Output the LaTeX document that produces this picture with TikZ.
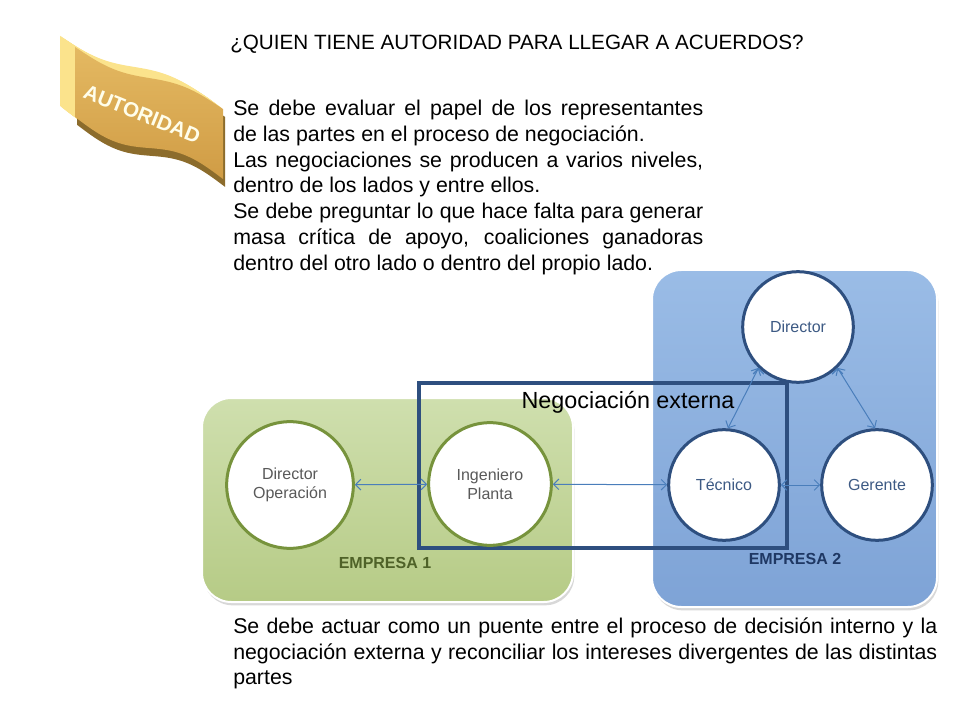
\documentclass[tikz,border=0pt]{standalone}
\usepackage{fontspec}
\setmainfont{Liberation Sans}
\usetikzlibrary{arrows.meta,shadows}

\definecolor{flagface}{HTML}{D09C45}
\definecolor{flagtop}{HTML}{E4B962}
\definecolor{flagside}{HTML}{FBE38C}
\definecolor{flagdark}{HTML}{8C6C2C}
\definecolor{olivetop}{HTML}{CFDFAE}
\definecolor{olivebot}{HTML}{B6CB86}
\definecolor{oliveline}{HTML}{77933C}
\definecolor{olivetext}{HTML}{4F6228}
\definecolor{bluetop}{HTML}{9ABCE6}
\definecolor{bluebot}{HTML}{7EA3D6}
\definecolor{blueline}{HTML}{2E4F7F}
\definecolor{bluetext}{HTML}{1F3864}
\definecolor{linkblue}{HTML}{4A7EBB}
\definecolor{greytext}{HTML}{595959}
\definecolor{steeltext}{HTML}{3D5A84}

\newcommand{\flagshape}{plot[domain=-74:74,samples=45,smooth] (\x,{-35+6*sin(2.43*(\x+74))}) -- plot[domain=74:-74,samples=45,smooth] (\x,{35+8*sin(2.43*(\x+74))}) -- cycle}

\begin{document}
\begin{tikzpicture}[x=0.75pt,y=-0.75pt,
  every node/.style={inner sep=0pt},
  body/.style={align=justify,anchor=north west},
  company/.style={rounded corners=22pt,draw=white,line width=1.5pt,drop shadow={opacity=0.3,shadow xshift=1pt,shadow yshift=-2.5pt}},
  greencirc/.style={circle,draw=oliveline,line width=2.25pt,fill=white,minimum size=92pt,align=center,text=greytext,font=\fontsize{12}{14.5}\selectfont},
  bluecirc/.style={circle,draw=blueline,line width=2.25pt,fill=white,minimum size=83pt,align=center,text=steeltext,font=\fontsize{12}{14.5}\selectfont},
  link/.style={<->,>={Straight Barb[length=4pt,width=8pt]},draw=linkblue,line width=0.75pt},
  complabel/.style={font=\bfseries\fontsize{12}{14}\selectfont}]
\fill[white] (0,0) rectangle (960,720);
\useasboundingbox (0,0) rectangle (960,720);

\begin{scope}[shift={(149,113)},yslant=-0.42]
\foreach \k in {12,...,1}
  \fill[flagside,shift={(-1.25*\k,-0.4*\k)}] \flagshape;
\fill[flagdark,shift={(2,7)}] \flagshape;
\shade[top color=flagtop,bottom color=flagface] \flagshape;
\node[rotate=-22,text=white!92!yellow,font=\bfseries\fontsize{15.5}{16}\selectfont] (flagtxt) at (-7,4) {AUTORIDAD};
\end{scope}

\node[anchor=base west,font=\fontsize{15.5}{18}\selectfont] (title) at (230,49.5) {¿QUIEN TIENE AUTORIDAD PARA LLEGAR A ACUERDOS?};
\node[body,text width=352.5pt,font=\fontsize{16}{19.3}\selectfont] (intro) at (233,100) {Se debe evaluar el papel de los representantes\linebreak de las partes en el proceso de negociación.\\Las negociaciones se producen a varios niveles,\linebreak dentro de los lados y entre ellos.\\Se debe preguntar lo que hace falta para generar\linebreak masa crítica de apoyo, coaliciones ganadoras\linebreak dentro del otro lado o dentro del propio lado.};
\node[body,text width=528pt,font=\fontsize{16}{18.9}\selectfont] (bridge) at (233,618) {Se debe actuar como un puente entre el proceso de decisión interno y la\linebreak negociación externa y reconciliar los intereses divergentes de las distintas\linebreak partes};

\path[company,top color=olivetop,bottom color=olivebot] (202,398) rectangle (573,602);
\path[company,top color=bluetop,bottom color=bluebot] (652,270) rectangle (937,607);
\draw[blueline,line width=3pt] (419,383) rectangle (787,548);

\node[greencirc,minimum size=95pt] (dirop) at (290,485) {Director\\Operación};
\node[greencirc] (ingpl) at (490,484) {Ingeniero\\Planta};
\node[bluecirc] (dir) at (798,327) {Director};
\node[bluecirc] (tec) at (724,485) {Técnico};
\node[bluecirc] (ger) at (877,485) {Gerente};

\draw[link] (dirop) edge (ingpl);
\draw[link] (ingpl) edge (tec);
\draw[link] (tec) edge (ger);
\draw[link] (dir.226) edge (tec.86);
\draw[link] (dir.314) edge (ger.92);

\node[anchor=base,font=\fontsize{17.5}{20}\selectfont] (neg) at (628,408) {Negociación externa};
\node[complabel,text=olivetext] (emp1) at (385,563) {EMPRESA 1};
\node[complabel,text=bluetext] (emp2) at (795,559) {EMPRESA 2};
\end{tikzpicture}
\end{document}
